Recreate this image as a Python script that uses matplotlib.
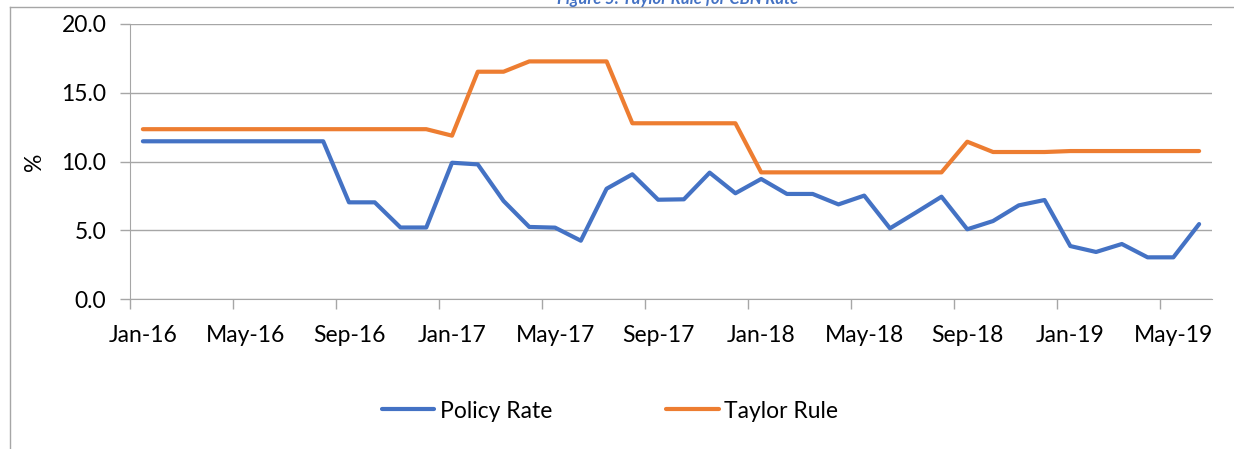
import numpy as np
import matplotlib
matplotlib.use('Agg')
import matplotlib.pyplot as plt
from matplotlib.lines import Line2D

plt.rcParams['font.family'] = ['Lato', 'DejaVu Sans']

# monthly data, Jan-16 .. Jun-19
meses = ['Jan-16', 'Feb-16', 'Mar-16', 'Apr-16', 'May-16', 'Jun-16', 'Jul-16', 'Aug-16',
         'Sep-16', 'Oct-16', 'Nov-16', 'Dec-16', 'Jan-17', 'Feb-17', 'Mar-17', 'Apr-17',
         'May-17', 'Jun-17', 'Jul-17', 'Aug-17', 'Sep-17', 'Oct-17', 'Nov-17', 'Dec-17',
         'Jan-18', 'Feb-18', 'Mar-18', 'Apr-18', 'May-18', 'Jun-18', 'Jul-18', 'Aug-18',
         'Sep-18', 'Oct-18', 'Nov-18', 'Dec-18', 'Jan-19', 'Feb-19', 'Mar-19', 'Apr-19',
         'May-19', 'Jun-19']

policy_rate = [11.47, 11.47, 11.47, 11.47, 11.47, 11.47, 11.47, 11.47,
               7.03, 7.03, 5.2, 5.2, 9.91, 9.79, 7.13, 5.24,
               5.19, 4.24, 8.02, 9.07, 7.22, 7.25, 9.19, 7.69,
               8.73, 7.64, 7.64, 6.88, 7.52, 5.14, 6.28, 7.44,
               5.07, 5.67, 6.81, 7.2, 3.85, 3.42, 4.0, 3.03,
               3.03, 5.45]

taylor_rule = [12.35, 12.35, 12.35, 12.35, 12.35, 12.35, 12.35, 12.35,
               12.35, 12.35, 12.35, 12.35, 11.88, 16.53, 16.53, 17.28,
               17.28, 17.28, 17.28, 12.78, 12.78, 12.78, 12.78, 12.78,
               9.21, 9.21, 9.21, 9.21, 9.21, 9.21, 9.21, 9.21,
               11.44, 10.69, 10.69, 10.69, 10.76, 10.76, 10.76, 10.76,
               10.76, 10.76]

yticks = [0.0, 5.0, 10.0, 15.0, 20.0]

#%%
fig = plt.figure(figsize=(12.34, 4.49), dpi=100)
ax = fig.add_axes([130/1234, 1-299/449, 1082/1234, 275/449])

x = np.arange(len(meses))
ax.plot(x, policy_rate, color='#4472C4', lw=3, label='Policy Rate', solid_capstyle='round', zorder=3)
ax.plot(x, taylor_rule, color='#ED7D31', lw=3, label='Taylor Rule', solid_capstyle='round', zorder=3)

ax.set_xlim(-0.5, len(meses) - 0.5)
ax.set_ylim(0, 20)
ax.set_yticks(yticks)
ax.set_yticklabels(['%.1f' % v for v in yticks])
ax.set_xticks(x[::4])
ax.set_xticklabels(meses[::4])
ax.set_xticks(np.arange(-0.5, len(meses), 4), minor=True)
ax.tick_params(axis='x', which='major', length=0, pad=19, labelsize=16.5)
ax.tick_params(axis='x', which='minor', length=7, color='#a6a6a6', width=1)
ax.tick_params(axis='y', length=7, color='#a6a6a6', width=1, pad=10, labelsize=16.5)

ax.grid(axis='y', color='#a6a6a6', lw=1)
for s in ['top', 'right']:
    ax.spines[s].set_visible(False)
ax.spines['left'].set_color('#a6a6a6')
ax.spines['bottom'].set_color('#a6a6a6')
ax.set_ylabel('%', fontsize=16.5, labelpad=12)

fig.legend(loc='center', bbox_to_anchor=(610/1234, 1-411/449), ncol=2, frameon=False,
           fontsize=16.5, handlelength=2.3, handletextpad=0.22, columnspacing=5.0)

# chart border (left and top only visible) and clipped title
fig.add_artist(Line2D([10/1234, 10/1234], [0, 1-7/449], color='#a6a6a6', lw=1))
fig.add_artist(Line2D([10/1234, 1], [1-7/449, 1-7/449], color='#a6a6a6', lw=1))
fig.text(678/1234, 1-4/449, 'Figure 5: Taylor Rule for CBN Rate', color='#4472C4',
         fontsize=12, fontweight='bold', fontstyle='italic', ha='center', va='baseline')

plt.savefig('out.png', dpi=100)
